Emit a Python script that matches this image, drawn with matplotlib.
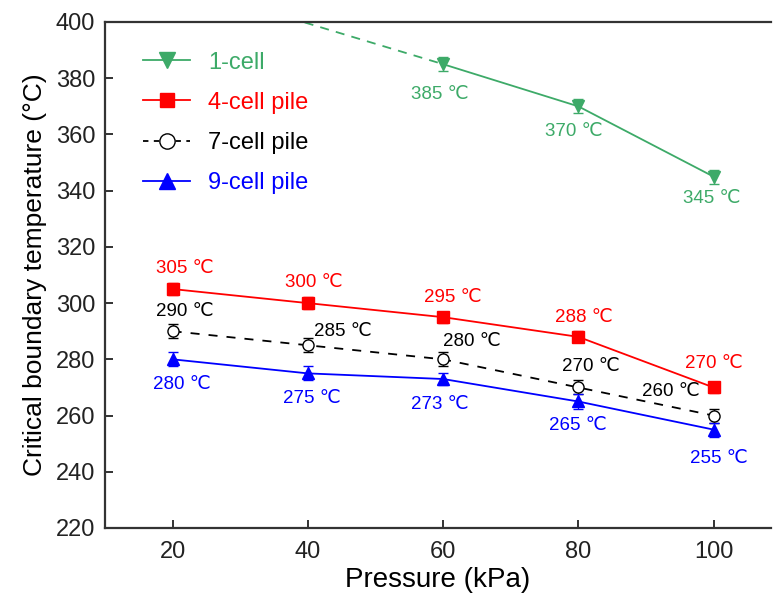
import matplotlib
matplotlib.use("Agg")
import matplotlib.pyplot as plt
from matplotlib.lines import Line2D

plt.rcParams['font.family'] = ['Liberation Sans', 'DejaVu Sans']

pressure = [20, 40, 60, 80, 100]
one_cell_x = [60, 80, 100]
one_cell = [385, 370, 345]
one_cell_err = [2.5, 2.5, 2.5]
one_cell_ext_x = [20, 60]
one_cell_ext_y = [414, 385]
four_cell = [305, 300, 295, 288, 270]
four_cell_err = [2, 2, 2, 2, 2]
seven_cell = [290, 285, 280, 270, 260]
seven_cell_err = [2.5, 2.5, 2.5, 2.5, 2.5]
nine_cell = [280, 275, 273, 265, 255]
nine_cell_err = [2.5, 2.5, 2, 2.5, 2.5]

labels = ['1-cell', '4-cell pile', '7-cell pile', '9-cell pile']
green = '#3DAA68'
red = '#FF0000'
black = '#000000'
blue = '#0000FF'

fig = plt.figure(figsize=(7.74, 5.99), dpi=100)
ax = fig.add_axes([105/774, (599-528)/599, (771-105)/774, (528-22)/599])

ms = 8
lw = 1.3
dash = (0, (5, 5))
ax.plot(one_cell_ext_x, one_cell_ext_y, color=green, lw=lw, ls=(0, (5, 4)))
ax.errorbar(one_cell_x, one_cell, yerr=one_cell_err, color=green, marker='v', ms=ms+1,
            lw=lw, capsize=3.5, elinewidth=0.9)
ax.errorbar(pressure, four_cell, yerr=four_cell_err, color=red, marker='s', ms=ms,
            lw=lw, capsize=3.5, elinewidth=0.9)
ax.errorbar(pressure, seven_cell, yerr=seven_cell_err, color=black, marker='o', ms=ms,
            mfc='white', mec=black, lw=lw, ls=dash, capsize=3.5, elinewidth=0.9)
ax.errorbar(pressure, nine_cell, yerr=nine_cell_err, color=blue, marker='^', ms=ms+1,
            lw=lw, capsize=3.5, elinewidth=0.9)

# annotations (offsets in points)
fs = 13.5
def ann(xs, ys, offs, color):
    for x, y, (dx, dy) in zip(xs, ys, offs):
        ax.annotate(f"{y} \u2103", (x, y), xytext=(dx, dy), textcoords='offset points',
                    ha='center', va='center', color=color, fontsize=fs)

ann(one_cell_x, one_cell, [(-2, -22), (-3, -18), (-1, -16)], green)
ann(pressure, four_cell, [(9, 15), (4, 15), (7, 14), (4, 14), (0, 17)], red)
ann(pressure, seven_cell, [(9, 14), (25, 10), (21, 13), (9, 15), (-31, 17)], black)
ann(pressure, nine_cell, [(7, -18), (3, -18), (-2, -18), (0, -17), (4, -21)], blue)

ax.set_xlim(10, 108.5)
ax.set_ylim(220, 400)
ax.set_xticks([20, 40, 60, 80, 100])
ax.set_yticks(range(220, 401, 20))
ax.tick_params(direction='in', length=6, width=1.3, labelsize=17, colors='#222222')
ax.tick_params(axis='x', pad=9)
ax.tick_params(axis='y', pad=7)
for s in ['left', 'bottom', 'top']:
    ax.spines[s].set_linewidth(1.6)
    ax.spines[s].set_color('#333333')
ax.spines['right'].set_visible(False)

ax.set_xlabel('Pressure (kPa)', fontsize=20, labelpad=3)
ax.set_ylabel('Critical boundary temperature (\u00b0C)', fontsize=19, labelpad=6)

handles = [
    Line2D([], [], color=green, marker='v', ms=ms+3, lw=lw),
    Line2D([], [], color=red, marker='s', ms=ms+2, lw=lw),
    Line2D([], [], color=black, marker='o', ms=ms+3, mfc='white', lw=lw, ls=(0, (3, 3))),
    Line2D([], [], color=blue, marker='^', ms=ms+3, lw=lw),
]
leg = ax.legend(handles, labels, loc='upper left', bbox_to_anchor=(0.0075, 1.007),
                frameon=False, fontsize=17, handlelength=2.0, labelspacing=0.77,
                handletextpad=0.75, borderaxespad=1.0)
for t, c in zip(leg.get_texts(), [green, red, black, blue]):
    t.set_color(c)

fig.savefig('out.png', dpi=100)
